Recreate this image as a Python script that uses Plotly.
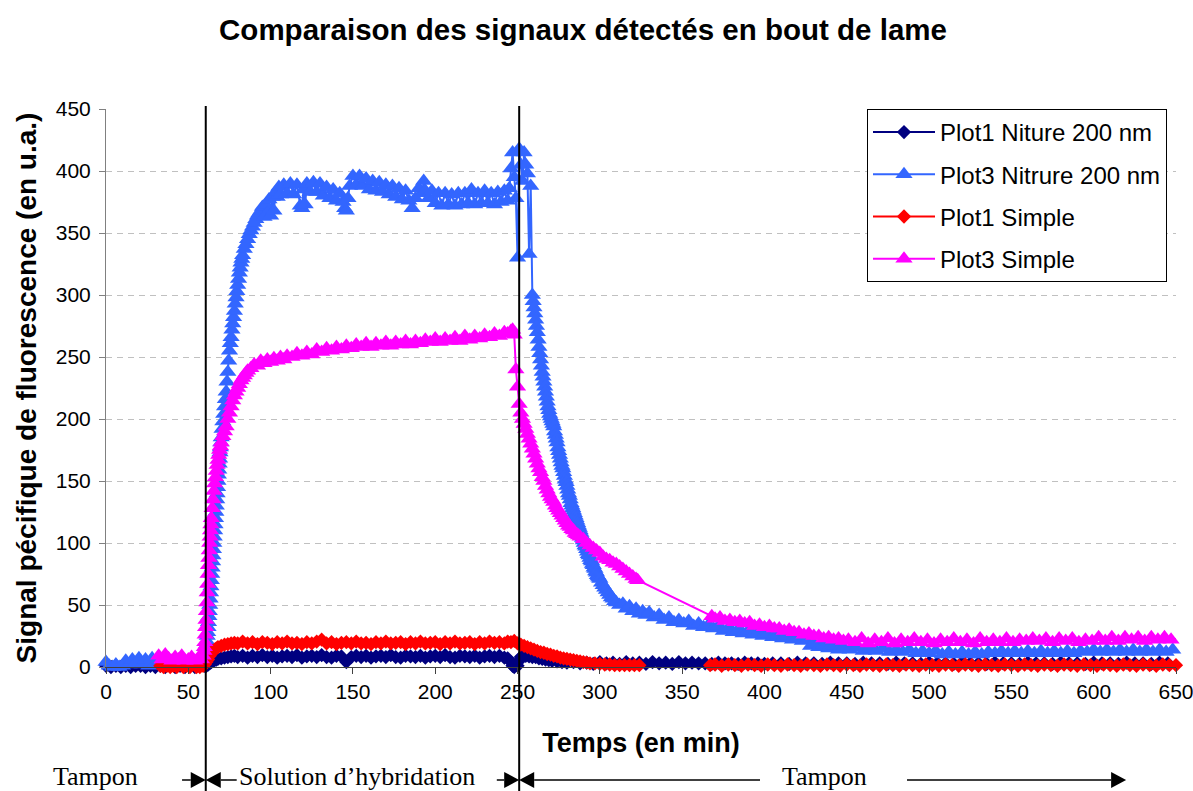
import plotly.graph_objects as go

# ---------------- data ----------------
# Plot1 Niture 200 nm
t_p1_nit = [0, 3, 6, 9, 12, 15, 18, 21, 24, 27,
            30, 33, 36, 39, 42, 45, 48, 51, 54, 57,
            60, 61, 62, 63, 64, 65, 66, 67, 68, 70,
            72, 74, 76, 78, 80, 83, 86, 89, 92, 95,
            98, 101, 104, 107, 110, 113, 116, 119, 122, 125,
            128, 131, 134, 137, 140, 143, 146, 149, 152, 155,
            158, 161, 164, 167, 170, 173, 176, 179, 182, 185,
            188, 191, 194, 197, 200, 203, 206, 209, 212, 215,
            218, 221, 224, 227, 230, 233, 236, 239, 242, 244,
            246, 247, 248, 249, 250, 251, 252, 253, 255, 257,
            259, 261, 263, 265, 267, 269, 271, 274, 277, 280,
            284, 288, 292, 296, 300, 304, 308, 312, 316, 320,
            324, 328, 332, 336, 340, 344, 348, 352, 356, 360,
            364, 368, 372, 376, 380, 384, 388, 392, 396, 400,
            405, 410, 415, 420, 425, 430, 435, 440, 445, 450,
            455, 460, 465, 470, 475, 480, 485, 490, 495, 500,
            505, 510, 515, 520, 525, 530, 535, 540, 545, 550,
            555, 560, 565, 570, 575, 580, 585, 590, 595, 600,
            605, 610, 615, 620, 625, 630, 635, 640, 645, 652]
v_p1_nit = [1, 0, 1, 0, 1, 0, 1, 1, 0, 1,
            0, 1, 0, 1, 0, 1, 0, 1, 0, 1,
            1, 1, 2, 3, 4, 5, 5.5, 6, 6.5, 7,
            7.5, 8, 8.5, 9, 8, 9, 7.5, 9, 8, 9.5,
            8, 9, 7.5, 8.5, 9, 8, 9.5, 7.5, 8.5, 9,
            8, 9.5, 8, 7.5, 9, 8.5, 4, 8, 9, 8,
            9, 7.5, 8.5, 9, 8, 9.5, 8, 7.5, 9, 8.5,
            8, 9, 7.5, 8.5, 9, 8, 9.5, 8, 7.5, 9,
            8.5, 8, 9, 7.5, 8.5, 9, 8, 9, 7.5, 7,
            4, 1, 0, 2, 1, 5, 8, 9, 9, 8.5,
            8, 8, 7, 6.5, 6, 5.5, 5, 4.5, 4, 3.5,
            4, 3, 3.5, 2.5, 4, 3, 3.5, 2.5, 4, 3,
            3.5, 2.5, 4, 3, 3.5, 2.5, 4, 3, 3.5, 3,
            3, 2.5, 3.5, 3, 3, 2.5, 3.5, 3, 3, 2.5,
            3, 3, 2.5, 3.5, 3, 3, 2.5, 3.5, 3, 3,
            2.5, 3.5, 3, 3, 2.5, 3.5, 3, 3, 2.5, 3.5,
            3, 3, 2.5, 3.5, 3, 3, 2.5, 3.5, 3, 3,
            2.5, 3.5, 3, 3, 2.5, 3.5, 3, 3, 2.5, 3.5,
            3, 3, 2.5, 3.5, 3, 3, 2.5, 3.5, 3, 3]

# Plot3 Nitrure 200 nm
t_p3_nit = [0, 2, 4, 6, 8, 10, 12, 14, 16, 18,
            20, 22, 24, 26, 28, 30, 32, 35, 38, 41,
            44, 47, 50, 53, 56, 59, 60, 60.25, 60.5, 60.75,
            61, 61.25, 61.5, 61.75, 62, 62.25, 62.5, 62.75, 63, 63.25,
            63.5, 63.75, 64, 64.25, 64.5, 64.75, 65, 65.25, 65.5, 65.75,
            66, 66.25, 66.5, 66.75, 67, 67.25, 67.5, 67.75, 68, 68.25,
            68.5, 68.75, 69, 69.25, 69.5, 69.75, 70, 70.5, 71, 71.5,
            72, 72.5, 73, 73.5, 74, 74.5, 75, 75.5, 76, 76.5,
            77, 77.5, 78, 78.5, 79, 79.5, 80, 80.5, 81, 81.5,
            82, 82.5, 83, 84, 85, 86, 87, 88, 89, 90,
            91, 92, 93, 94, 95, 96, 97, 98, 99, 100,
            101, 102, 103, 104, 105, 106, 108, 110, 112, 114,
            116, 118, 119, 120, 121, 122, 124, 126, 128, 130,
            132, 134, 136, 138, 140, 142, 144, 145, 146, 147,
            148, 150, 152, 154, 156, 158, 160, 162, 164, 166,
            168, 170, 172, 174, 176, 178, 180, 182, 184, 186,
            188, 190, 192, 193, 194, 196, 198, 200, 202, 204,
            206, 208, 210, 212, 214, 216, 218, 220, 222, 224,
            226, 228, 230, 232, 234, 236, 238, 240, 242, 244,
            245, 246, 247, 248, 249, 250, 251, 252, 253, 254,
            255, 256, 257, 258, 259, 259.5, 260, 260.5, 261, 261.5,
            262, 262.5, 263, 263.5, 264, 264.5, 265, 265.5, 266, 266.5,
            267, 267.5, 268, 268.5, 269, 269.5, 270, 270.5, 271, 271.5,
            272, 272.5, 273, 273.5, 274, 274.5, 275, 275.5, 276, 276.5,
            277, 277.5, 278, 278.5, 279, 279.5, 280, 280.5, 281, 281.5,
            282, 282.5, 283, 283.5, 284, 284.5, 285, 285.5, 286, 286.5,
            287, 287.5, 288, 288.5, 289, 289.5, 290, 290.5, 291, 291.5,
            292, 292.5, 293, 293.5, 294, 294.5, 295, 295.5, 296, 296.5,
            297, 297.5, 298, 298.5, 299, 299.5, 300, 301, 302, 303,
            304, 305, 306, 307, 308, 309, 310, 312, 314, 316,
            318, 320, 322, 324, 326, 328, 330, 333, 336, 339,
            342, 345, 348, 351, 354, 357, 360, 363, 366, 369,
            372, 375, 378, 381, 384, 387, 390, 393, 396, 399,
            402, 405, 408, 411, 414, 417, 420, 423, 426, 428,
            430, 433, 436, 439, 442, 445, 448, 452, 456, 460,
            464, 468, 472, 476, 480, 484, 488, 492, 496, 500,
            504, 508, 512, 516, 520, 524, 528, 532, 536, 540,
            544, 548, 552, 556, 560, 564, 568, 572, 576, 580,
            584, 588, 592, 596, 600, 604, 608, 612, 616, 620,
            624, 628, 632, 636, 640, 644, 648, 652]
v_p3_nit = [4, 1, 0, 2, 0, 1, 5, 2, 6, 3,
            7, 2, 6, 1, 7, 3, 6, 3, 5, 2,
            5, 3, 4, 2, 4, 6, 10, 12, 14, 16,
            18, 21, 25, 28, 32, 36, 41, 45, 50, 55,
            60, 65, 70, 75, 80, 85, 90, 95, 100, 105,
            110, 115, 120, 125, 130, 135, 140, 145, 150, 155,
            159, 164, 168, 173, 177, 181, 185, 192, 198, 204,
            210, 216, 222, 230, 238, 247, 255, 261, 266, 272,
            277, 282, 287, 293, 298, 303, 308, 313, 318, 322,
            326, 329, 332, 337, 341, 345, 349, 352, 355, 358,
            361, 364, 366, 368, 371, 363, 373, 366, 377, 364,
            379, 368, 383, 379, 387, 381, 389, 382, 390, 381,
            389, 372, 370, 385, 373, 390, 383, 391, 383, 390,
            380, 387, 378, 385, 376, 382, 375, 370, 368, 378,
            388, 396, 389, 396, 388, 394, 385, 392, 384, 391,
            383, 389, 381, 388, 379, 386, 377, 384, 376, 370,
            378, 386, 382, 392, 384, 378, 384, 374, 382, 372,
            382, 373, 381, 372, 382, 373, 382, 374, 385, 373,
            382, 374, 384, 374, 382, 373, 383, 375, 384, 376,
            386, 402, 415, 395, 378, 330, 418, 405, 392, 415,
            405, 398, 333, 388, 300, 295, 290, 285, 280, 275,
            270, 264, 258, 253, 248, 243, 238, 234, 230, 226,
            222, 218, 214, 210, 207, 204, 202, 200, 198, 196,
            194, 190, 187, 184, 181, 177, 174, 171, 168, 165,
            162, 160, 157, 154, 151, 149, 146, 143, 140, 138,
            135, 132, 130, 128, 126, 124, 122, 120, 118, 116,
            114, 112, 110, 108, 106, 104, 102, 100, 98, 97,
            95, 93, 91, 90, 88, 86, 85, 83, 82, 80,
            79, 77, 76, 74, 73, 72, 71, 68, 66, 64,
            62, 60, 58, 56, 55, 53, 52, 50, 51, 47,
            49, 45, 47, 43, 45, 42, 44, 40, 42, 38,
            40, 36, 38, 35, 37, 33, 35, 32, 34, 31,
            33, 29, 31, 28, 30, 27, 29, 26, 28, 25,
            27, 24, 26, 23, 25, 22, 24, 21, 22, 17,
            19, 16, 18, 15, 17, 14, 16, 14, 16, 13,
            15, 13, 15, 12, 14, 12, 14, 11, 13, 11,
            13, 10, 12, 10, 12, 10, 12, 10, 12, 11,
            13, 11, 13, 11, 13, 11, 13, 11, 13, 11,
            13, 11, 13, 12, 14, 12, 14, 12, 14, 12,
            14, 12, 14, 12, 14, 12, 14, 13]

# Plot1 Simple (None = gap in the recording)
t_p1_simple = [33, 35, 37, 39, 41, 43, 45, 47, 49, 51,
               53, 55, 57, 59, 60, 61, 62, 63, 64, 65,
               66, 67, 68, 70, 72, 74, 76, 78, 80, 83,
               86, 89, 92, 95, 98, 101, 104, 107, 110, 113,
               116, 119, 122, 125, 128, 131, 134, 137, 140, 143,
               146, 149, 152, 155, 158, 161, 164, 167, 170, 173,
               176, 179, 182, 185, 188, 191, 194, 197, 200, 203,
               206, 209, 212, 215, 218, 221, 224, 227, 230, 233,
               236, 239, 242, 244, 246, 248, 250, 252, 254, 256,
               258, 260, 262, 264, 266, 268, 270, 272, 274, 276,
               278, 280, 282, 284, 286, 288, 290, 292, 294, 297,
               300, 303, 306, 309, 312, 315, 318, 321, 324, 345,
               367, 370, 374, 378, 382, 386, 390, 394, 398, 402,
               406, 410, 414, 418, 422, 426, 430, 434, 438, 442,
               446, 450, 454, 458, 462, 466, 470, 474, 478, 482,
               486, 490, 494, 498, 502, 506, 510, 514, 518, 522,
               526, 530, 534, 538, 542, 546, 550, 554, 558, 562,
               566, 570, 574, 578, 582, 586, 590, 594, 598, 602,
               606, 610, 614, 618, 622, 626, 630, 634, 638, 642,
               646, 650, 653]
v_p1_simple = [1, 0, 1, 0, 1, 0, -1, 0, 1, 0,
               -1, 0, 0, 1, 2, 4, 6, 9, 11, 13,
               14, 15, 16, 17, 18, 18.5, 19, 19.5, 19, 20.5,
               19, 20, 18.5, 20, 19.5, 18.5, 20, 19, 20.5, 19,
               19.5, 18.5, 20, 19, 20.5, 22, 19, 20, 18.5, 19.5,
               20, 19, 20.5, 19, 19.5, 18.5, 20, 19, 20.5, 19,
               19.5, 20, 18.5, 20, 19, 20.5, 19, 19.5, 20, 18.5,
               20, 19, 20.5, 19, 19.5, 20, 18.5, 20, 19, 20.5,
               19.5, 20, 19, 20.5, 20, 21, 19, 18, 17, 16,
               15, 14, 13, 12, 11.5, 10.5, 10, 9, 8.5, 7.5,
               7, 6.5, 6, 5.5, 5, 4.5, 4, 3.5, 3, 3,
               2.5, 2, 2, 1.5, 1.5, 1.5, 1.5, 1.5, 1.5, None,
               1.5, 2, 1, 2, 1.5, 1, 2, 1.5, 1, 2,
               1.5, 1, 2, 1.5, 1, 2, 1.5, 1, 2, 1.5,
               1, 2, 1.5, 1, 2, 1.5, 1, 2, 1.5, 1,
               2, 1.5, 1, 2, 1.5, 1, 2, 1.5, 1, 2,
               1.5, 1, 2, 1.5, 1, 2, 1.5, 1, 2, 1.5,
               1, 2, 1.5, 1, 2, 1.5, 1, 2, 1.5, 1,
               2, 1.5, 1, 2, 1.5, 1, 2, 1.5, 1, 2,
               1.5, 1.5, 1.5]

# Plot3 Simple
t_p3_simple = [32, 34, 36, 38, 40, 42, 44, 46, 48, 50,
               52, 54, 56, 58, 59, 59.5, 59.75, 60, 60.25, 60.5,
               60.75, 61, 61.25, 61.5, 61.75, 62, 62.25, 62.5, 62.75, 63,
               63.25, 63.5, 63.75, 64, 64.5, 65, 65.5, 66, 66.5, 67,
               67.5, 68, 68.5, 69, 69.5, 70, 71, 72, 73, 74,
               75, 76, 77, 78, 79, 80, 81, 82, 83, 84,
               85, 86, 88, 90, 92, 94, 96, 98, 100, 102,
               104, 106, 108, 110, 113, 116, 119, 122, 125, 128,
               131, 134, 137, 140, 143, 146, 149, 152, 155, 158,
               161, 164, 167, 170, 173, 176, 179, 182, 185, 188,
               191, 194, 197, 200, 203, 206, 209, 212, 215, 218,
               221, 224, 227, 230, 233, 236, 239, 242, 244, 246,
               247, 248, 249, 250, 251, 252, 253, 254, 255, 256,
               257, 258, 259, 260, 261, 262, 263, 264, 265, 266,
               267, 268, 269, 270, 271, 272, 273, 274, 275, 276,
               277, 278, 279, 280, 281, 282, 283, 284, 285, 286,
               287, 288, 290, 292, 294, 296, 298, 300, 302, 304,
               306, 308, 310, 312, 314, 316, 318, 320, 322, 323,
               368, 370, 373, 376, 379, 382, 385, 388, 391, 394,
               397, 400, 403, 406, 409, 412, 415, 418, 421, 424,
               427, 430, 433, 436, 439, 442, 445, 448, 451, 455,
               459, 463, 467, 471, 475, 479, 483, 487, 491, 495,
               499, 503, 507, 511, 515, 519, 523, 527, 531, 535,
               539, 543, 547, 551, 555, 559, 563, 567, 571, 575,
               579, 583, 587, 591, 595, 599, 603, 607, 611, 615,
               619, 623, 627, 631, 635, 639, 643, 647, 652]
v_p3_simple = [9, 6, 10, 7, 5, 8, 6, 9, 5, 6,
               8, 5, 7, 6, 9, 13, 16, 20, 26, 32,
               38, 45, 52, 60, 67, 75, 82, 88, 94, 100,
               105, 110, 115, 120, 128, 135, 142, 148, 153, 158,
               163, 167, 171, 175, 178, 181, 186, 190, 194, 200,
               205, 210, 215, 219, 222, 225, 228, 231, 233, 235,
               237, 239, 241, 244, 243, 247, 245, 248, 246, 249,
               247, 250, 248, 251, 250, 253, 251, 254, 252, 256,
               254, 257, 255, 258, 256, 259, 257, 260, 258, 261,
               258, 261, 259, 262, 259, 262, 260, 263, 260, 263,
               261, 264, 262, 265, 262, 265, 263, 266, 263, 267,
               264, 267, 265, 268, 266, 269, 267, 270, 269, 271,
               272, 268, 240, 226, 212, 205, 200, 196, 192, 188,
               184, 180, 176, 172, 168, 164, 160, 157, 153, 150,
               146, 143, 140, 137, 135, 133, 130, 128, 126, 124,
               122, 120, 118, 116, 114, 113, 111, 110, 108, 107,
               106, 105, 103, 100, 98, 96, 94, 92, 89, 87,
               86, 84, 83, 81, 79, 77, 75, 73, 71, 70,
               41, 39, 40, 37, 38, 36, 37, 35, 36, 33,
               34, 32, 33, 31, 31, 29, 30, 28, 28, 26,
               27, 25, 25, 23, 24, 22, 23, 21, 22, 20,
               23, 19, 22, 20, 23, 19, 22, 20, 23, 20,
               22, 19, 22, 20, 23, 20, 22, 19, 23, 20,
               22, 20, 23, 20, 22, 21, 23, 21, 23, 20,
               23, 21, 23, 20, 22, 21, 24, 21, 24, 21,
               24, 22, 24, 21, 24, 22, 24, 22, 23]

series_names = ["Plot1 Niture 200 nm", "Plot3 Nitrure 200 nm", "Plot1 Simple", "Plot3 Simple"]
series_colors = ["#000080", "#3366FF", "#FF0000", "#FF00FF"]
series_symbols = ["diamond", "triangle-up", "diamond", "triangle-up"]
series_sizes = [11, 15, 11, 15]

# phase boundaries (min) and phase labels
phase_bounds = [60.6, 251.0]
phase_labels = ["Tampon", "Solution d\u2019hybridation", "Tampon"]
phase_label_x = [-6.1, 152.5, 436.2]
X_MAX, Y_MAX = 650, 450

# ---------------- figure ----------------
series_t = [t_p1_nit, t_p3_nit, t_p1_simple, t_p3_simple]
series_v = [v_p1_nit, v_p3_nit, v_p1_simple, v_p3_simple]
for t, v in zip(series_t, series_v):
    assert len(t) == len(v), (len(t), len(v))

SANS = "Liberation Sans, Arial, sans-serif"
SERIF = "Liberation Serif, Times New Roman, serif"

fig = go.Figure()
for i in range(4):
    fig.add_trace(go.Scatter(
        x=series_t[i], y=series_v[i], name=series_names[i],
        mode="lines+markers", legendgroup=f"g{i}", connectgaps=False,
        line=dict(color=series_colors[i], width=2),
        marker=dict(symbol=series_symbols[i], size=series_sizes[i],
                    color=series_colors[i], line=dict(width=0)),
        cliponaxis=False,
    ))

W, H = 1193, 791
ML, MR, MT, MB = 106, 17, 109, 124
PW, PH = W - ML - MR, H - MT - MB


def xp(xv):
    return xv / X_MAX


def yp_px(py):
    # pixel row (from top) -> paper y
    return (H - MB - py) / PH


shapes = []
for b in phase_bounds:
    shapes.append(dict(type="line", xref="paper", yref="paper",
                       x0=xp(b), x1=xp(b), y0=yp_px(106), y1=yp_px(800),
                       line=dict(color="black", width=2)))

ROW = 780
yr = yp_px(ROW)
hw = 15 / PW
hh = 8 / PH


def arrow(x_from, x_to):
    # line from x_from to x_to with a filled head at x_to
    d = 1 if x_to > x_from else -1
    tip = xp(x_to)
    base = tip - d * hw
    shapes.append(dict(type="line", xref="paper", yref="paper",
                       x0=xp(x_from), x1=base, y0=yr, y1=yr,
                       line=dict(color="black", width=1.5)))
    shapes.append(dict(type="path", xref="paper", yref="paper",
                       path=f"M {tip} {yr} L {base} {yr + hh} L {base} {yr - hh} Z",
                       fillcolor="black", line=dict(color="black", width=0)))


arrow(46.2, phase_bounds[0])
arrow(79.4, phase_bounds[0])
arrow(237.4, phase_bounds[1])
arrow(397.3, phase_bounds[1])
arrow(486.6, 619.7)

annotations = []
for lab, lx in zip(phase_labels, phase_label_x):
    annotations.append(dict(text=lab, x=xp(lx), y=yp_px(776), xref="paper", yref="paper",
                            xanchor="center", yanchor="middle", showarrow=False,
                            font=dict(family=SERIF, size=26, color="black")))

fig.update_layout(
    width=W, height=H,
    margin=dict(l=ML, r=MR, t=MT, b=MB, autoexpand=False),
    paper_bgcolor="white", plot_bgcolor="white",
    title=dict(text="<b>Comparaison des signaux détectés en bout de lame</b>",
               x=583 / W, xanchor="center", y=1 - 30 / H, yanchor="middle",
               font=dict(family=SANS, size=29.5, color="black")),
    xaxis=dict(range=[0, X_MAX], dtick=50, tick0=0, showgrid=False, zeroline=False,
               showline=True, linecolor="#404040", linewidth=1, automargin=False,
               ticks="outside", ticklen=6, tickcolor="#404040", ticklabeloverflow="allow",
               tickfont=dict(family=SANS, size=21, color="black"),
               title=dict(text="<b>Temps (en min)</b>", standoff=30,
                          font=dict(family=SANS, size=27, color="black"))),
    yaxis=dict(range=[0, Y_MAX], dtick=50, tick0=0, showgrid=True, automargin=False,
               gridcolor="#C0C0C0", griddash="6px,5px", gridwidth=1, zeroline=False,
               showline=True, linecolor="#808080", linewidth=1,
               ticks="outside", ticklen=6, tickcolor="#808080", ticklabelstandoff=4,
               tickfont=dict(family=SANS, size=21, color="black"),
               title=dict(text="<b>Signal pécifique de fluorescence (en u.a.)</b>", standoff=10,
                          font=dict(family=SANS, size=28, color="black"))),
    legend=dict(x=(867 - ML) / PW, y=1.0, xanchor="left", yanchor="top",
                bgcolor="white", bordercolor="black", borderwidth=1,
                font=dict(family=SANS, size=24, color="black"),
                tracegroupgap=8, itemwidth=62),
    shapes=shapes,
    annotations=annotations,
    showlegend=True,
)

fig.write_html("out.html", config={"displayModeBar": False},
               post_script="document.body.style.margin='0px';")
